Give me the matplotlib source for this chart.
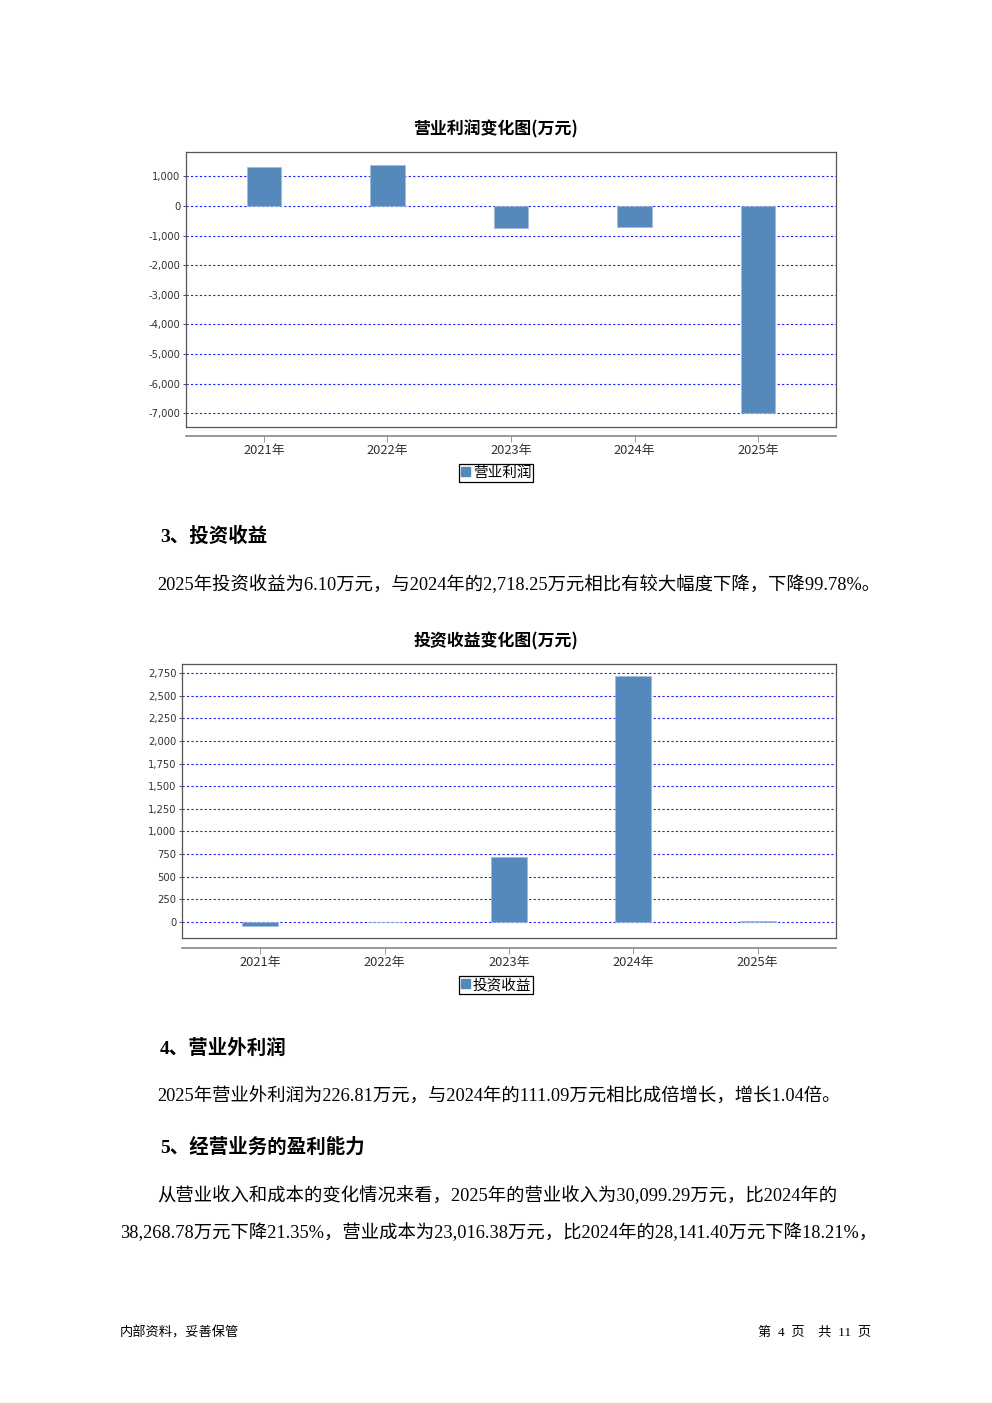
import matplotlib
matplotlib.use("Agg")
import matplotlib.pyplot as plt
from matplotlib.patches import Patch
from matplotlib.ticker import FuncFormatter

plt.rcParams['font.family'] = ['DejaVu Sans', 'Noto Sans CJK SC']

# data
years = ['2021年', '2022年', '2023年', '2024年', '2025年']
op_profit = [1310, 1390, -730, -700, -7000]
invest_income = [-42, 2, 722, 2718.25, 6.10]

op_ticks = [1000, 0, -1000, -2000, -3000, -4000, -5000, -6000, -7000]
inv_ticks = [2750, 2500, 2250, 2000, 1750, 1500, 1250, 1000, 750, 500, 250, 0]

W, H = 992, 1403
fig = plt.figure(figsize=(W / 100, H / 100), dpi=100)
fig.patch.set_facecolor('white')

BAR = '#5589bc'
CJK = ['Noto Sans CJK SC', 'DejaVu Sans']
BODY = ['Liberation Serif', 'Noto Sans CJK SC']


def box(x0, x1, y0, y1):
    # pixel box (top-left origin) -> figure rect
    return [x0 / W, 1 - y1 / H, (x1 - x0) / W, (y1 - y0) / H]


def bar_chart(rect, vals, ticks, ylim, width, offset, title, title_y, legend_label, legend_y):
    ax = fig.add_axes(rect)
    x = range(len(years))
    ax.bar(x, vals, width=width, color=BAR, edgecolor='#9fbad8', linewidth=0.5, zorder=3)
    ax.set_xlim(-0.63, len(years) - 0.37)
    ax.set_ylim(*ylim)
    ax.set_yticks(ticks)
    ax.yaxis.set_major_formatter(FuncFormatter(lambda v, p: f'{int(v):,}'))
    ax.grid(axis='y', color='#2020ff', linestyle=(0, (2, 2)), linewidth=0.8, zorder=1)
    ax.tick_params(axis='y', labelsize=7.2, length=2, width=0.6, pad=2, colors='#333333')
    for s in ['top', 'left', 'right']:
        ax.spines[s].set_color('#555555')
        ax.spines[s].set_linewidth(0.9)
    # category axis drawn below the plot frame
    ax.spines['bottom'].set_position(('outward', offset))
    ax.spines['bottom'].set_color('#888888')
    ax.spines['bottom'].set_linewidth(1.2)
    ax.plot([0, 1], [0, 0], transform=ax.transAxes, color='#555555', lw=0.9, clip_on=False)
    ax.set_xticks(list(x))
    ax.set_xticklabels(years, family=CJK)
    ax.tick_params(axis='x', labelsize=9.3, length=4, width=0.6, pad=1.5, colors='#888888', labelcolor='#333333')
    fig.text(0.5, 1 - title_y / H, title, ha='center', va='center', fontsize=12.2,
             fontweight='bold', family=CJK)
    ax.legend([Patch(color=BAR)], [legend_label], loc='center',
              bbox_to_anchor=(496 / W, 1 - legend_y / H), bbox_transform=fig.transFigure,
              frameon=True, fancybox=False, edgecolor='black', framealpha=1,
              prop={'family': CJK, 'size': 10.5}, handlelength=0.6, handleheight=0.6,
              handletextpad=0.2, borderpad=0.15, borderaxespad=0)
    ax.get_legend().get_frame().set_linewidth(0.9)
    return ax


bar_chart(box(186, 836, 152, 427), op_profit, op_ticks, (-7466, 1824), 0.28, 6.5,
          '营业利润变化图(万元)', 129, '营业利润', 473)
bar_chart(box(182, 836, 664, 938), invest_income, inv_ticks, (-177, 2851), 0.29, 7.2,
          '投资收益变化图(万元)', 641, '投资收益', 985)


def txt(x, y, s, size=13.2, weight='normal', ha='left', fam=BODY):
    fig.text(x / W, 1 - y / H, s, ha=ha, va='center', fontsize=size, fontweight=weight, family=fam)


txt(160, 536, '3、投资收益', 14, 'bold')
txt(157, 585, '2025年投资收益为6.10万元，与2024年的2,718.25万元相比有较大幅度下降，下降99.78%。')
txt(160, 1048, '4、营业外利润', 14, 'bold')
txt(157, 1097, '2025年营业外利润为226.81万元，与2024年的111.09万元相比成倍增长，增长1.04倍。')
txt(160, 1147, '5、经营业务的盈利能力', 14, 'bold')
txt(157, 1196, '从营业收入和成本的变化情况来看，2025年的营业收入为30,099.29万元，比2024年的')
txt(120, 1233, '38,268.78万元下降21.35%，营业成本为23,016.38万元，比2024年的28,141.40万元下降18.21%，')
txt(120, 1333, '内部资料，妥善保管', 9.5)
txt(871, 1333, '第  4  页    共  11  页', 9.5, ha='right')

fig.savefig('out.png', dpi=100, facecolor='white')
